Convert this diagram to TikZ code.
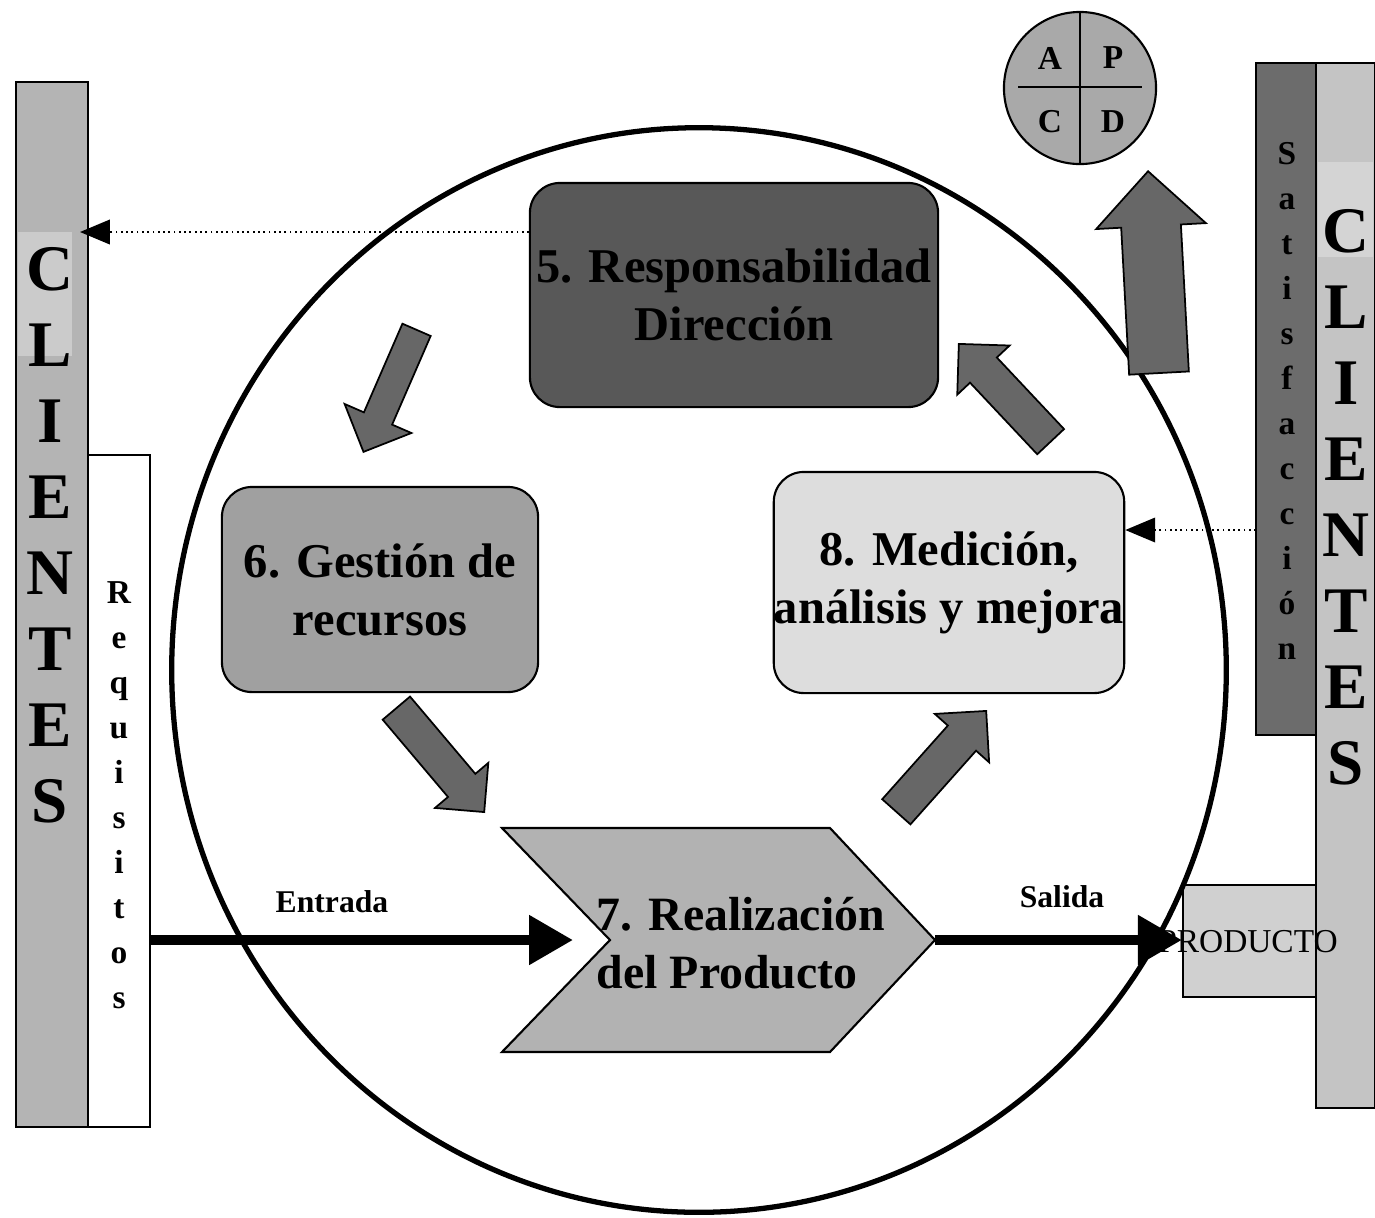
\documentclass[tikz,border=0pt]{standalone}
\usepackage{fontspec}
\setmainfont{Liberation Serif}
\usetikzlibrary{shapes.arrows,arrows.meta}
\definecolor{barL}{HTML}{B4B4B4}
\definecolor{hiL}{HTML}{CBCBCB}
\definecolor{barR}{HTML}{C4C4C4}
\definecolor{hiR}{HTML}{D4D4D4}
\definecolor{satgray}{HTML}{6C6C6C}
\definecolor{respgray}{HTML}{585858}
\definecolor{gestgray}{HTML}{A0A0A0}
\definecolor{medgray}{HTML}{DDDDDD}
\definecolor{realgray}{HTML}{B2B2B2}
\definecolor{prodgray}{HTML}{D0D0D0}
\definecolor{pdcagray}{HTML}{A9A9A9}
\definecolor{arrowgray}{HTML}{676767}

\begin{document}
\begin{tikzpicture}[x=0.01cm, y=-0.01cm,
    bar/.style={draw, line width=0.6pt, inner sep=0pt},
    box/.style={draw, rounded corners=0.3cm, line width=0.6pt, inner sep=0pt, align=center,
        font=\bfseries\fontsize{13.8}{16.5}\selectfont},
    blockarrow/.style={single arrow, draw, fill=arrowgray, line width=0.5pt, inner xsep=0pt, anchor=tip},
    bigletters/.style={align=center, font=\bfseries\fontsize{18.5}{21.6}\selectfont},
    smallletters/.style={align=center, font=\bfseries\fontsize{9.5}{12.8}\selectfont},
    lab/.style={font=\bfseries\fontsize{9}{11}\selectfont},
    flow/.style={line width=2.8pt, -{Triangle[length=12.5pt,width=13.5pt]}},
    fb/.style={densely dotted, line width=0.5pt, -{Triangle[length=8.5pt,width=7pt]}}]
    \useasboundingbox (0,0) rectangle (1375,1217);

    \node[bar, fill=barL, minimum width=0.72cm, minimum height=10.45cm] (cliL) at (52,604.5) {};
    \fill[hiL] (18,232) rectangle (72,356);
    \node[bigletters] (cliLtxt) at (50,535) {C\\L\\I\\E\\N\\T\\E\\S};
    \node[bar, fill=white, minimum width=0.62cm, minimum height=6.72cm] (req) at (119,791) {};
    \node[smallletters] (reqtxt) at (119,795) {R\\e\\q\\u\\i\\s\\i\\t\\o\\s};

    \node[bar, fill=barR, minimum width=0.59cm, minimum height=10.45cm] (cliR) at (1345.5,585.5) {};
    \fill[hiR] (1318,162) rectangle (1373,257);
    \node[bigletters] (cliRtxt) at (1346,497) {C\\L\\I\\E\\N\\T\\E\\S};
    \node[bar, fill=satgray, minimum width=0.6cm, minimum height=6.72cm] (sat) at (1286,399) {};
    \node[smallletters] (sattxt) at (1287,401) {S\\a\\t\\i\\s\\f\\a\\c\\c\\i\\ó\\n};

    \node[bar, fill=prodgray, minimum width=1.33cm, minimum height=1.12cm] (prod) at (1249.5,941) {};

    \draw[line width=1.5pt] (699,670) ellipse [x radius=5.27cm, y radius=5.42cm];

    \node[font=\fontsize{9.5}{11}\selectfont] (prodtxt) at (1248,942) {PRODUCTO};

    \node[box, fill=respgray, minimum width=4.08cm, minimum height=2.24cm] (resp) at (734,295) {5. Responsabilidad\\Dirección};
    \node[box, fill=gestgray, minimum width=3.16cm, minimum height=2.05cm] (gest) at (380,589.5) {6. Gestión de\\recursos};
    \node[box, fill=medgray, minimum width=3.48cm, minimum height=2.21cm] (med) at (949,582.5) {8. Medición,\\análisis y mejora};

    \coordinate (notch) at (610,940);
    \coordinate (tip) at (935,940);
    \draw[fill=realgray, line width=0.6pt] (502,828) -- (830,828) -- (tip) -- (830,1052) -- (502,1052) -- (notch) -- cycle;
    \node[align=left, anchor=west, inner sep=0pt, font=\bfseries\fontsize{13.6}{16.5}\selectfont] (real) at (596,943) {7. Realización\\del Producto};

    \draw[flow] (req.east |- notch) -- (573,940);
    \node[lab] (entrada) at (332,902) {Entrada};
    \draw[flow] (tip) -- (prod.west |- tip);
    \node[lab] (salida) at (1062,897) {Salida};

    \coordinate (fbL) at (80,232);
    \coordinate (fbR) at (1256,530);
    \draw[fb] (resp.west |- fbL) -- (fbL);
    \draw[fb] (fbR) -- (med.east |- fbR);

    \node[blockarrow, minimum height=1.33cm, inner ysep=0.145cm, single arrow head extend=0.21cm, rotate=246.5] (a1) at (363,453) {};
    \node[blockarrow, minimum height=1.36cm, inner ysep=0.17cm, single arrow head extend=0.17cm, rotate=-49.8] (a2) at (485,813) {};
    \node[blockarrow, minimum height=1.35cm, inner ysep=0.18cm, single arrow head extend=0.175cm, rotate=48.3] (a3) at (987,710) {};
    \node[blockarrow, minimum height=1.34cm, inner ysep=0.175cm, single arrow head extend=0.175cm, rotate=133.2] (a4) at (958,343) {};
    \node[blockarrow, minimum height=2.02cm, inner ysep=0.29cm, single arrow head extend=0.25cm, rotate=93.1] (a5) at (1148,170) {};

    \node[circle, draw, fill=pdcagray, line width=0.6pt, minimum size=1.52cm, inner sep=0pt] (pdca) at (1080,88) {};
    \draw[line width=0.6pt] (1018,87) -- (1142,87);
    \draw[line width=0.6pt] (pdca.north) -- (pdca.south);
    \node[font=\bfseries\fontsize{9.5}{11}\selectfont] (pa) at (1050,58) {A};
    \node[font=\bfseries\fontsize{9.5}{11}\selectfont] (pp) at (1113,58) {P};
    \node[font=\bfseries\fontsize{9.5}{11}\selectfont] (pc) at (1050,122) {C};
    \node[font=\bfseries\fontsize{9.5}{11}\selectfont] (pd) at (1113,122) {D};
\end{tikzpicture}
\end{document}
